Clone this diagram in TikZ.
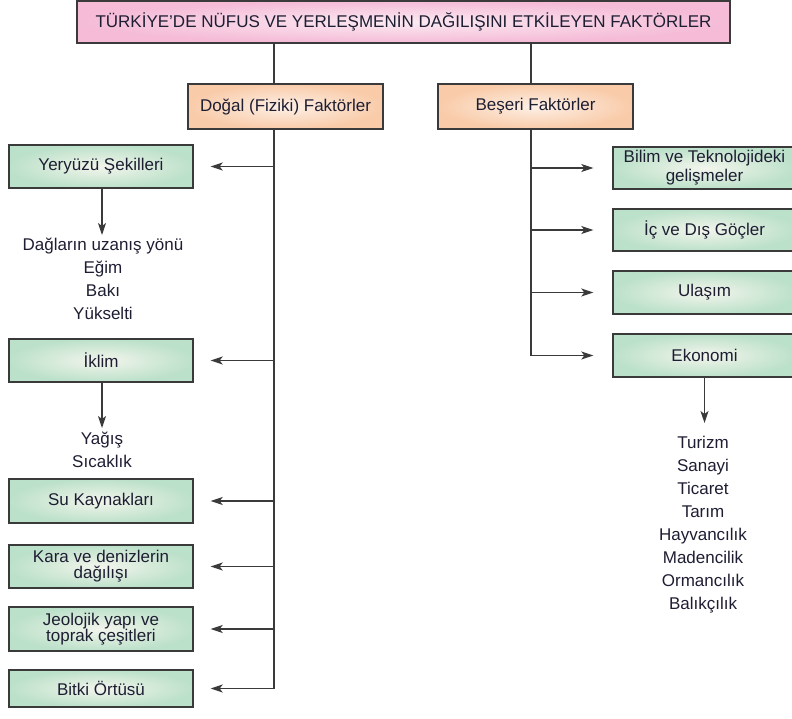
\documentclass[tikz,border=0pt]{standalone}
\usepackage{fontspec}
\setmainfont{Liberation Sans}
\usetikzlibrary{arrows.meta,shadings}
\definecolor{txt}{HTML}{1E1E33}
\definecolor{lineC}{HTML}{3A3A3A}
\definecolor{gOut}{HTML}{BCE1CA}
\definecolor{gIn}{HTML}{F3F5EC}
\definecolor{oOut}{HTML}{F9CBA9}
\definecolor{oIn}{HTML}{FDF0E6}
\definecolor{pOut}{HTML}{F5BBD7}
\definecolor{pIn}{HTML}{FBEAF2}
\begin{document}
\begin{tikzpicture}[x=1pt,y=-1pt,
  font=\fontsize{17}{17}\selectfont, text=txt,
  basebox/.style={draw=lineC, line width=1.4pt, align=center, inner sep=0pt},
  gbox/.style={basebox, inner color=gIn, outer color=gOut, minimum width=184pt, minimum height=43pt},
  rbox/.style={basebox, inner color=gIn, outer color=gOut, minimum width=183pt, minimum height=42pt},
  obox/.style={basebox, inner color=oIn, outer color=oOut, minimum width=195pt, minimum height=45pt},
  tbox/.style={basebox, inner color=pIn, outer color=pOut, minimum width=653pt, minimum height=42pt},
  conn/.style={draw=lineC, line width=1.3pt},
  arr/.style={conn, -{Stealth[length=12pt,width=8pt,inset=3pt]}},
  listtxt/.style={align=center, inner sep=0pt, anchor=north, font=\fontsize{17}{23}\selectfont}
]
\useasboundingbox (0,0) rectangle (792,718);
\clip (0,0) rectangle (792,718);

% title and main branches
\node[tbox] (title) at (403.5,22) {TÜRKİYE'DE NÜFUS VE YERLEŞMENİN DAĞILIŞINI ETKİLEYEN FAKTÖRLER};
\node[obox] (dogal) at (285.5,106.5) {Doğal (Fiziki) Faktörler};
\node[obox] (beseri) at (535.5,106.5) {Beşeri Faktörler};

\coordinate (lx) at (274,0);
\coordinate (rx) at (531,0);
\coordinate (dx) at (102,0);

% left boxes
\node[gbox] (yery) at (101,166.5) {Yeryüzü Şekilleri};
\node[gbox] (iklim) at (101,360.5) {İklim};
\node[gbox, minimum height=44pt] (su) at (101,501) {Su Kaynakları};
\node[gbox, font=\fontsize{17}{16}\selectfont] (kara) at (101,566.5) {Kara ve denizlerin\\dağılışı};
\node[gbox, minimum height=44pt, font=\fontsize{17}{16}\selectfont] (jeo) at (101,629) {Jeolojik yapı ve\\toprak çeşitleri};
\node[gbox, minimum height=37pt] (bitki) at (101,688.5) {Bitki Örtüsü};

% right boxes
\node[rbox, font=\fontsize{17}{19}\selectfont] (bilim) at (704.5,168) {Bilim ve Teknolojideki\\gelişmeler};
\node[rbox] (goc) at (704.5,230) {İç ve Dış Göçler};
\node[rbox, minimum height=43pt] (ulasim) at (704.5,292.5) {Ulaşım};
\node[rbox, minimum height=43pt] (eko) at (704.5,355.5) {Ekonomi};

% lists
\node[listtxt] (yerlist) at (103,238) {Dağların uzanış yönü\\Eğim\\Bakı\\Yükselti};
\node[listtxt] (iklist) at (102,432) {Yağış\\Sıcaklık};
\node[listtxt] (ekolist) at (703,436) {Turizm\\Sanayi\\Ticaret\\Tarım\\Hayvancılık\\Madencilik\\Ormancılık\\Balıkçılık};

% connectors from title
\draw[conn] (title.south -| lx) -- (dogal.north -| lx);
\draw[conn] (title.south -| rx) -- (beseri.north -| rx);

% left trunk
\draw[conn] (dogal.south -| lx) -- (lx |- bitki.east);
\foreach \n in {yery,iklim,su,kara,jeo,bitki}
  \draw[arr, shorten >=17pt] (lx |- \n.east) -- (\n.east);

% right trunk
\draw[conn] (beseri.south -| rx) -- (rx |- eko.west);
\foreach \n in {bilim,goc,ulasim,eko}
  \draw[arr, shorten >=19pt] (rx |- \n.west) -- (\n.west);

% down arrows
\draw[arr, shorten >=3pt] (yery.south -| dx) -- (dx |- yerlist.north);
\draw[arr, shorten >=4pt] (iklim.south -| dx) -- (dx |- iklist.north);
\draw[arr, shorten >=13pt] (eko.south) -- (eko.south |- ekolist.north);
\end{tikzpicture}
\end{document}
